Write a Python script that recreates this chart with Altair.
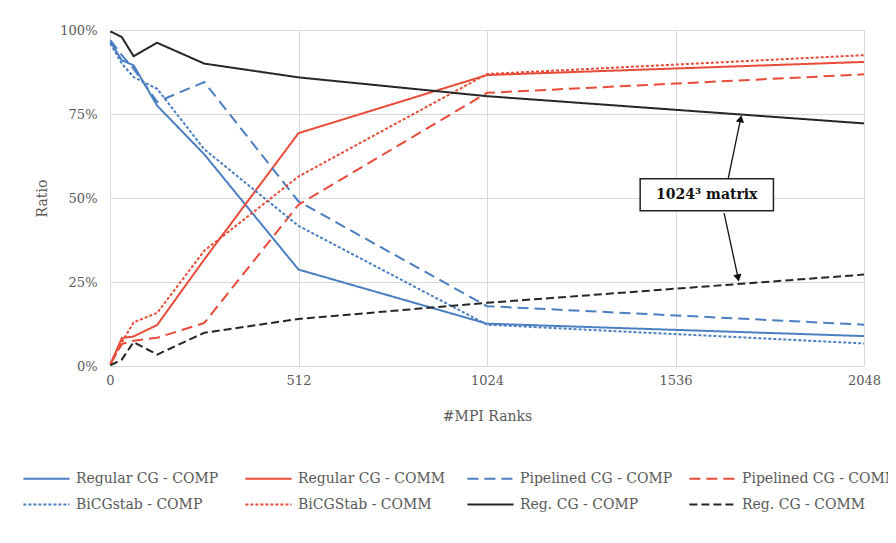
import altair as alt
import pandas as pd

# ---- data (percent) ----
ranks = [1, 32, 64, 128, 256, 512, 1024, 2048]
series_names = [
    "Regular CG - COMP", "Regular CG - COMM",
    "Pipelined CG - COMP", "Pipelined CG - COMM",
    "BiCGstab - COMP", "BiCGStab - COMM",
    "Reg. CG - COMP", "Reg. CG - COMM",
]
regular_cg_comp = [96.5, 91.0, 89.5, 77.5, 63.0, 28.7, 12.6, 8.9]
regular_cg_comm = [0.5, 8.3, 8.8, 12.2, 31.7, 69.3, 86.6, 90.5]
pipelined_cg_comp = [97.0, 92.5, 88.5, 78.6, 84.5, 49.0, 17.8, 12.3]
pipelined_cg_comm = [0.5, 6.5, 7.5, 8.4, 12.8, 48.0, 81.3, 86.8]
bicgstab_comp = [96.0, 90.0, 86.0, 82.5, 64.5, 41.7, 12.3, 6.7]
bicgstab_comm = [0.5, 7.0, 13.0, 15.8, 34.3, 56.4, 86.9, 92.5]
reg_cg_comp = [99.6, 97.9, 92.2, 96.2, 90.0, 85.9, 80.3, 72.2]
reg_cg_comm = [0.2, 1.9, 7.1, 3.4, 9.9, 14.0, 18.8, 27.2]

series_values = [regular_cg_comp, regular_cg_comm, pipelined_cg_comp, pipelined_cg_comm,
                 bicgstab_comp, bicgstab_comm, reg_cg_comp, reg_cg_comm]

x_ticks = [0, 512, 1024, 1536, 2048]
y_ticks = [0, 25, 50, 75, 100]

# annotation (data coordinates)
note_text = ["1024³ matrix"]
note_box_x = [1440]
note_box_x2 = [1802]
note_box_y = [46.2]
note_box_y2 = [55.7]
note_text_x = [1621]
note_text_y = [50.9]
arrow_x = [1679, 1668]
arrow_y = [55.7, 45.5]
arrow_x2 = [1713, 1706]
arrow_y2 = [73.6, 26.2]
arrow_angle = [12, 168]

BLUE = "#4a7fc1"
RED = "#e84b37"
BLACK = "#262626"
colors = [BLUE, RED, BLUE, RED, BLUE, RED, BLACK, BLACK]
dashes = [[1, 0], [1, 0], [11, 6], [11, 6], [3, 2], [3, 2], [1, 0], [8, 4]]

rows = []
for name, vals in zip(series_names, series_values):
    for r, v in zip(ranks, vals):
        rows.append({"series": name, "ranks": r, "ratio": v})
df = pd.DataFrame(rows)

FONT = "DejaVu Serif"
GRAY = "#595959"

x_scale = alt.Scale(domain=[0, 2048], nice=False, zero=False)
y_scale = alt.Scale(domain=[0, 100], nice=False)


def make_legend():
    return alt.Legend(orient="none", legendX=-81, legendY=431, columns=4,
                      direction="horizontal",
                      title=None, symbolType="M-1.4,0H1.4", symbolSize=1089,
                      symbolStrokeWidth=2, labelFont=FONT, labelFontSize=14,
                      labelColor=GRAY, gridAlign="all", columnPadding=7,
                      rowPadding=1, labelOffset=12)


lines = alt.Chart(df).mark_line(strokeWidth=2).encode(
    x=alt.X("ranks:Q", scale=x_scale,
            axis=alt.Axis(values=x_ticks, format="d", title="#MPI Ranks", labelPadding=8,
                          titlePadding=22, grid=True, labelFlush=False)),
    y=alt.Y("ratio:Q", scale=y_scale,
            axis=alt.Axis(values=y_ticks, labelExpr="datum.value + '%'", title="Ratio",
                          labelPadding=13, titlePadding=10, grid=True)),
    color=alt.Color("series:N",
                    scale=alt.Scale(domain=series_names, range=colors),
                    legend=make_legend()),
    strokeDash=alt.StrokeDash("series:N",
                              scale=alt.Scale(domain=series_names, range=dashes),
                              legend=make_legend()),
)

ann_df = pd.DataFrame({
    "x": arrow_x, "y": arrow_y, "x2": arrow_x2, "y2": arrow_y2, "angle": arrow_angle,
})
box_df = pd.DataFrame({
    "x": note_box_x, "x2": note_box_x2, "y": note_box_y, "y2": note_box_y2,
    "tx": note_text_x, "ty": note_text_y, "label": note_text,
})

arrows = alt.Chart(ann_df).mark_rule(color="#111111", strokeWidth=1.3).encode(
    x=alt.X("x:Q", scale=x_scale), y=alt.Y("y:Q", scale=y_scale),
    x2="x2:Q", y2="y2:Q",
)
heads = alt.Chart(ann_df).mark_point(shape="triangle-up", filled=True, size=70,
                                      color="#111111", opacity=1).encode(
    x=alt.X("x2:Q", scale=x_scale), y=alt.Y("y2:Q", scale=y_scale),
    angle=alt.Angle("angle:Q", scale=None),
)
box = alt.Chart(box_df).mark_rect(fill="white", stroke="#222222", strokeWidth=1.5).encode(
    x=alt.X("x:Q", scale=x_scale), x2="x2:Q",
    y=alt.Y("y:Q", scale=y_scale), y2="y2:Q",
)
text = alt.Chart(box_df).mark_text(font=FONT, fontSize=14, fontWeight="bold",
                                   color="#111111").encode(
    x=alt.X("tx:Q", scale=x_scale), y=alt.Y("ty:Q", scale=y_scale), text="label:N",
)

chart = alt.layer(lines, arrows, heads, box, text).properties(
    width=754, height=336,
    autosize=alt.AutoSizeParams(type="none"),
    padding={"left": 102, "top": 22, "right": 24, "bottom": 169},
    background="white",
).configure_view(stroke=None).configure_axis(
    gridColor="#d9d9d9", gridWidth=1, domain=False, ticks=False,
    labelFont=FONT, labelFontSize=13, labelColor=GRAY,
    titleFont=FONT, titleFontSize=14, titleColor=GRAY, titleFontWeight="normal",
)

chart.save("out.html", embed_options={"renderer": "svg", "actions": False})
